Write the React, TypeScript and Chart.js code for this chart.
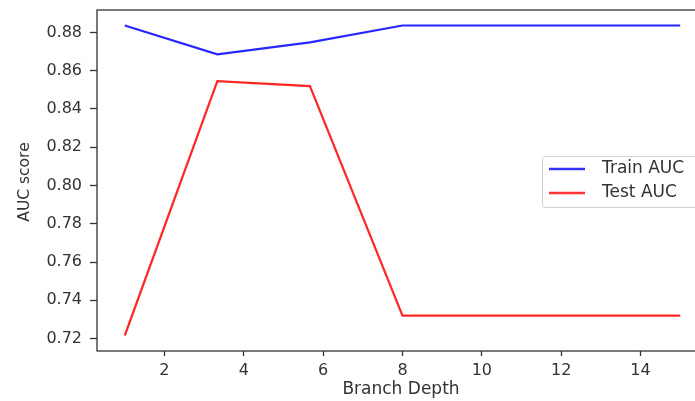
import React, { useEffect, useRef } from "react";
import { Chart, registerables } from "chart.js";
Chart.register(...registerables);

const depths = [1, 3.333, 5.667, 8, 10.333, 12.667, 15];
const trainAUC = [0.8836, 0.8685, 0.8748, 0.8836, 0.8836, 0.8836, 0.8836];
const testAUC = [0.7216, 0.8545, 0.8519, 0.732, 0.732, 0.732, 0.732];
const xTicks = [2, 4, 6, 8, 10, 12, 14];
const yTicks = [0.72, 0.74, 0.76, 0.78, 0.8, 0.82, 0.84, 0.86, 0.88];
const seriesNames = ["Train AUC", "Test AUC"];
const xTitle = "Branch Depth";
const yTitle = "AUC score";

const FONT = "'DejaVu Sans', sans-serif";
const TXT = "#333333";

export default function App() {
  const ref = useRef<HTMLCanvasElement | null>(null);
  useEffect(() => {
    if (!ref.current) return;
    const frame = {
      id: "frame",
      afterDraw(chart: any) {
        const { ctx, chartArea: a } = chart;
        ctx.save();
        ctx.strokeStyle = "#333333";
        ctx.lineWidth = 1.3;
        ctx.strokeRect(a.left, a.top, a.right - a.left, a.bottom - a.top);
        // titles
        ctx.fillStyle = TXT;
        ctx.textAlign = "center";
        ctx.textBaseline = "middle";
        ctx.font = `17px ${FONT}`;
        ctx.fillText(xTitle, 401, 390);
        ctx.save();
        ctx.translate(25, 182);
        ctx.rotate(-Math.PI / 2);
        ctx.font = `15.5px ${FONT}`;
        ctx.fillText(yTitle, 0, 0);
        ctx.restore();
        // legend
        const lx = 542, ly = 156, lw = 180, lh = 51;
        ctx.fillStyle = "rgba(255,255,255,0.8)";
        ctx.strokeStyle = "#d0d0d0";
        ctx.lineWidth = 1;
        ctx.beginPath();
        (ctx as any).roundRect(lx + 0.5, ly + 0.5, lw, lh, 3);
        ctx.fill();
        ctx.stroke();
        const cols = ["rgba(0,0,255,0.8)", "rgba(255,0,0,0.8)"];
        seriesNames.forEach((n, i) => {
          const yy = ly + 13 + i * 24;
          ctx.strokeStyle = cols[i];
          ctx.lineWidth = 2.5;
          ctx.beginPath();
          ctx.moveTo(549, yy);
          ctx.lineTo(585, yy);
          ctx.stroke();
          ctx.fillStyle = TXT;
          ctx.font = `17px ${FONT}`;
          ctx.textAlign = "left";
          ctx.textBaseline = "middle";
          ctx.fillText(n, 602, yy);
        });
        ctx.restore();
      },
    };
    const zeroPad = (s: any) => {
      s.paddingTop = 0;
      s.paddingBottom = 0;
      s.paddingLeft = 0;
      s.paddingRight = 0;
    };
    const chart = new Chart(ref.current, {
      type: "line",
      data: {
        datasets: [
          {
            label: seriesNames[0],
            data: depths.map((x, i) => ({ x, y: trainAUC[i] })),
            borderColor: "rgba(0,0,255,0.85)",
            borderWidth: 2.2,
            pointRadius: 0,
            tension: 0,
          },
          {
            label: seriesNames[1],
            data: depths.map((x, i) => ({ x, y: testAUC[i] })),
            borderColor: "rgba(255,0,0,0.85)",
            borderWidth: 2.2,
            pointRadius: 0,
            tension: 0,
          },
        ],
      },
      plugins: [frame],
      options: {
        animation: false,
        responsive: false,
        layout: { padding: { top: 10, right: 4, left: 0, bottom: 0 } },
        plugins: { legend: { display: false }, tooltip: { enabled: false } },
        scales: {
          x: {
            type: "linear",
            min: 0.3,
            max: 15.7,
            afterBuildTicks: (s: any) => {
              s.ticks = xTicks.map((v) => ({ value: v }));
            },
            afterFit: (s: any) => {
              s.height = 50;
              zeroPad(s);
            },
            grid: { drawOnChartArea: false, tickLength: 5, tickColor: "#333333", tickWidth: 1.3 },
            border: { display: false },
            ticks: { color: TXT, font: { family: FONT, size: 16 }, padding: 5, maxRotation: 0 },
          },
          y: {
            type: "linear",
            min: 0.7135,
            max: 0.8917,
            afterBuildTicks: (s: any) => {
              s.ticks = yTicks.map((v) => ({ value: v }));
            },
            afterFit: (s: any) => {
              s.width = 97;
              zeroPad(s);
            },
            grid: { drawOnChartArea: false, tickLength: 7, tickColor: "#333333", tickWidth: 1.3 },
            border: { display: false },
            ticks: {
              color: TXT,
              font: { family: FONT, size: 16 },
              padding: 8,
              callback: (v: any) => Number(v).toFixed(2),
            },
          },
        },
      },
    });
    return () => chart.destroy();
  }, []);
  return (
    <div style={{ position: "absolute", left: 0, top: 0, width: 695, height: 401, overflow: "hidden", background: "#fff" }}>
      <canvas ref={ref} width={712} height={401} style={{ display: "block", width: 712, height: 401 }} />
    </div>
  );
}
